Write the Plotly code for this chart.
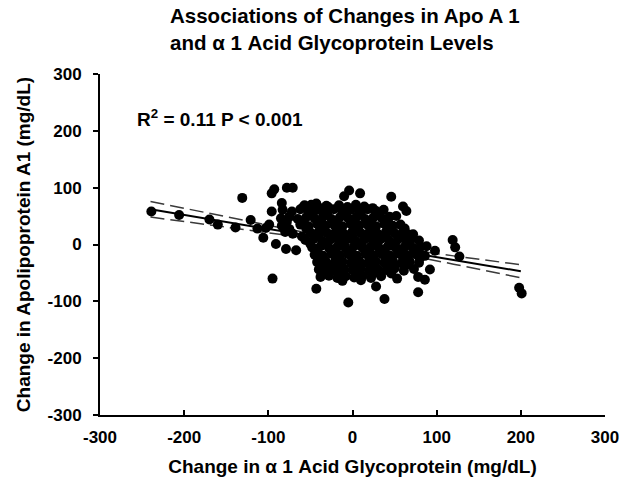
import plotly.graph_objects as go

# ---- data ----
acid_change = [
    # outlying points
    -239, -206, -170, -160, -139, -131, -121, -113, -106, -103, -99, -96, -93, -96, -95,
    -78, -71, -84, -91, -79, -67, -57, -43, -29, -10, -4, 9, 46, 60, 64, 52, 72, 79, 88,
    98, 119, 122, 127, 198, 201, 92, 78, 86, 53, 28, 38, 78, -5, -43,
    # dense cloud
    -58, -49, -40, -31, -16, -6, 4, 14, 24,
    -83, -72, -62, -52, -42, -32, -22, -12, -2, 8, 18, 28, 37,
    -85, -75, -65, -55, -45, -35, -25, -15, -5, 5, 15, 25, 35, 44,
    -84, -62, -52, -42, -32, -22, -12, -2, 8, 18, 28, 38, 48, 57,
    -80, -71, -50, -40, -30, -20, -10, 0, 10, 20, 30, 40, 50, 60, 66,
    -56, -46, -36, -26, -16, -6, 4, 14, 24, 34, 44, 54, 64, 70,
    -48, -38, -28, -18, -8, 2, 12, 22, 32, 42, 52, 62, 72, 81,
    -45, -35, -25, -15, -5, 5, 15, 25, 35, 45, 55, 65, 75, 86,
    -42, -32, -22, -12, -2, 8, 18, 28, 38, 48, 58, 68, 79,
    -40, -30, -20, -10, 0, 10, 20, 30, 40, 50, 61, 73,
    -38, -28, -18, -8, 2, 12, 22, 34,
    -12, 10,
    # cloud, second pass
    -50, -30, -10, 10, 30,
    -78, -58, -38, -18, 2, 22, 42,
    -75, -55, -35, -15, 5, 25, 45, 62,
    -60, -40, -20, 0, 20, 40, 58,
    -50, -30, -10, 10, 30, 50, 68,
    -42, -22, -2, 18, 38, 58, 78,
    -40, -20, 0, 20, 40, 60, 80,
    -36, -16, 4, 24, 44, 64,
    -34, -14, 6, 26, 46,
]
apoa1_change = [
    58, 52, 44, 35, 30, 82, 43, 28, 12, 29, 35, 90, 97, 58, -60,
    100, 100, 73, 1, -8, -10, 69, 72, 66, 85, 95, 90, 84, 67, 59, 50, 18, 7, -3,
    -11, 8, -5, -21, -76, -86, -44, -57, -62, -60, -74, -96, -84, -102, -78,
    67, 70, 65, 68, 69, 66, 70, 67, 64,
    61, 58, 62, 59, 61, 58, 62, 59, 61, 58, 62, 59, 61,
    46, 49, 45, 48, 46, 49, 45, 48, 46, 49, 45, 48, 46, 49,
    33, 35, 32, 36, 33, 35, 32, 36, 33, 35, 32, 36, 33, 35,
    22, 19, 21, 23, 20, 22, 19, 23, 20, 22, 19, 23, 20, 22, 18,
    8, 10, 6, 9, 7, 10, 6, 9, 7, 10, 6, 9, 7, 10,
    -5, -3, -6, -4, -7, -3, -6, -4, -7, -3, -6, -4, -6, -4,
    -18, -20, -16, -19, -17, -20, -16, -19, -17, -20, -16, -19, -17, -20,
    -31, -29, -33, -30, -32, -29, -33, -30, -32, -29, -33, -30, -32,
    -44, -42, -46, -43, -45, -42, -46, -43, -45, -42, -46, -43,
    -57, -55, -59, -56, -58, -55, -59, -56,
    -64, -63,
    54, 53, 55, 54, 52,
    40, 41, 39, 40, 42, 40, 39,
    27, 28, 26, 27, 28, 26, 27, 28,
    14, 15, 13, 14, 15, 13, 14,
    1, 2, 0, 1, 2, 0, 1,
    -11, -12, -10, -11, -12, -10, -11,
    -24, -25, -23, -24, -25, -23, -24,
    -37, -38, -36, -37, -38, -36,
    -50, -51, -49, -50, -51,
]

fit_x = [-240, 200]
fit_y = [62, -47]

band_x = [-240, -200, -160, -120, -80, -40, 0, 40, 80, 120, 160, 200]
band_upper = [75.7, 63.6, 51.6, 39.6, 27.7, 16.1, 5.5, -3.7, -11.9, -20.0, -27.8, -35.6]
band_lower = [48.3, 40.6, 32.8, 25.0, 16.9, 8.7, -0.5, -11.1, -22.7, -34.6, -46.6, -58.6]

axis_ticks = [-300, -200, -100, 0, 100, 200, 300]
axis_tick_labels = ["-300", "-200", "-100", "0", "100", "200", "300"]

title_text = "Associations of Changes in Apo A 1<br>and α 1 Acid Glycoprotein Levels"
x_title = "Change in α 1 Acid Glycoprotein (mg/dL)"
y_title = "Change in Apolipoprotein A1 (mg/dL)"
stat_text = "R<sup>2</sup> = 0.11 P &lt; 0.001"

FONT = "Liberation Sans, Arial, sans-serif"

fig = go.Figure()
for band in (band_upper, band_lower):
    fig.add_trace(go.Scatter(x=band_x, y=band, mode="lines",
                             line=dict(color="#3a3a3a", width=1.5, dash="14px,6px"),
                             hoverinfo="skip", showlegend=False))
fig.add_trace(go.Scatter(x=fit_x, y=fit_y, mode="lines",
                         line=dict(color="black", width=2), showlegend=False))
fig.add_trace(go.Scatter(x=acid_change, y=apoa1_change, mode="markers",
                         marker=dict(color="black", size=10, line=dict(width=0)),
                         showlegend=False))

fig.add_annotation(x=-258, y=223, xref="x", yref="y", text=stat_text,
                   showarrow=False, xanchor="left", yanchor="middle",
                   font=dict(family=FONT, size=19, color="black", weight="bold"))

# title as a paper-anchored annotation (pixel-precise placement)
fig.add_annotation(x=0.134, y=1.212, xref="paper", yref="paper", text=title_text,
                   showarrow=False, xanchor="left", yanchor="top", align="left",
                   font=dict(family=FONT, size=20.5, color="black", weight="bold"))

fig.update_layout(
    width=621, height=482,
    paper_bgcolor="white", plot_bgcolor="white",
    margin=dict(l=100, r=16, t=74, b=67),
    xaxis=dict(range=[-300, 300], tickvals=axis_ticks, ticktext=axis_tick_labels,
               ticks="inside", ticklen=5, automargin=False,
               tickwidth=2, tickcolor="black", showline=True, linecolor="black",
               linewidth=2, showgrid=False, zeroline=False, ticklabelstandoff=6,
               tickfont=dict(family=FONT, size=17, color="black", weight="bold"),
               title=dict(text=x_title, standoff=13,
                          font=dict(family=FONT, size=19, color="black", weight="bold"))),
    yaxis=dict(range=[-300, 300], tickvals=axis_ticks, ticktext=axis_tick_labels,
               ticks="outside", ticklen=5, automargin=False,
               tickwidth=2, tickcolor="black", showline=True, linecolor="black",
               linewidth=2, showgrid=False, zeroline=False, ticklabelstandoff=8,
               tickfont=dict(family=FONT, size=17, color="black", weight="bold"),
               title=dict(text=y_title, standoff=12,
                          font=dict(family=FONT, size=19, color="black", weight="bold"))),
)

fig.write_html("out.html", config={"displayModeBar": False},
               post_script="document.body.style.margin='0';")
